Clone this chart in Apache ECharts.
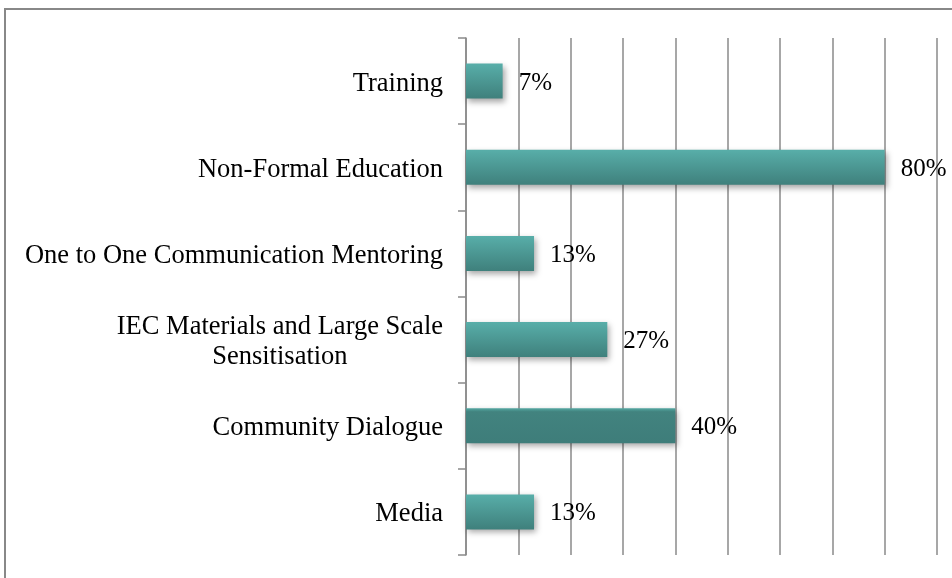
<!DOCTYPE html>
<html>
<head>
<meta charset="utf-8">
<script src="https://cdn.jsdelivr.net/npm/echarts@6/dist/echarts.min.js"></script>
<style>
  html, body { margin: 0; padding: 0; background: #ffffff; }
  #chart { width: 952px; height: 578px; }
</style>
</head>
<body>
<div id="chart"></div>
<script>
// bottom to top, as the category axis draws them
var categories = [
  "Media",
  "Community Dialogue",
  "IEC Materials and Large Scale\nSensitisation",
  "One to One Communication Mentoring",
  "Non-Formal Education",
  "Training"
];
var values = [13, 40, 27, 13, 80, 7];
var highlighted = "Community Dialogue";

var chart = echarts.init(document.getElementById("chart"));

var normalFill = new echarts.graphic.LinearGradient(0, 0, 0, 1, [
  { offset: 0, color: "#58aea9" },
  { offset: 1, color: "#3f807c" }
]);
var darkFill = new echarts.graphic.LinearGradient(0, 0, 0, 1, [
  { offset: 0, color: "#55a8a3" },
  { offset: 0.1, color: "#42837f" },
  { offset: 1, color: "#3e7d7a" }
]);

var option = {
  animation: false,
  grid: { left: 466, right: 15, top: 38, bottom: 23 },
  graphic: [
    {
      type: "rect",
      shape: { x: 5, y: 9, width: 1200, height: 1200 },
      style: { fill: "none", stroke: "#888888", lineWidth: 2 },
      silent: true
    }
  ],
  xAxis: {
    type: "value",
    min: 0,
    max: 90,
    interval: 10,
    axisLabel: { show: false },
    axisLine: { show: false },
    axisTick: { show: false },
    splitLine: { lineStyle: { color: "#8a8a8a", width: 1.5 } }
  },
  yAxis: {
    type: "category",
    data: categories,
    axisLine: { show: true, lineStyle: { color: "#8a8a8a", width: 1.5 } },
    axisTick: { show: true, length: 8, lineStyle: { color: "#8a8a8a", width: 1.5 } },
    axisLabel: {
      margin: 23,
      padding: [5, 0, 0, 0],
      color: "#000000",
      fontFamily: "Liberation Serif",
      fontSize: 26.5,
      lineHeight: 30,
      formatter: function (v) {
        return v.split("\n").map(function (s) { return "{c|" + s + "}"; }).join("\n");
      },
      rich: {
        c: {
          align: "center",
          color: "#000000",
          fontFamily: "Liberation Serif",
          fontSize: 26.5,
          lineHeight: 30
        }
      }
    }
  },
  series: [
    {
      type: "bar",
      barWidth: 35,
      data: values.map(function (v, i) {
        return {
          value: v,
          itemStyle: { color: categories[i] === highlighted ? darkFill : normalFill }
        };
      }),
      itemStyle: {
        shadowColor: "rgba(0,0,0,0.35)",
        shadowBlur: 6,
        shadowOffsetX: 2,
        shadowOffsetY: 3
      },
      label: {
        show: true,
        position: "right",
        distance: 16,
        offset: [0, 2],
        formatter: "{c}%",
        color: "#000000",
        fontFamily: "Liberation Serif",
        fontSize: 25
      }
    }
  ]
};

chart.setOption(option);
</script>
</body>
</html>
